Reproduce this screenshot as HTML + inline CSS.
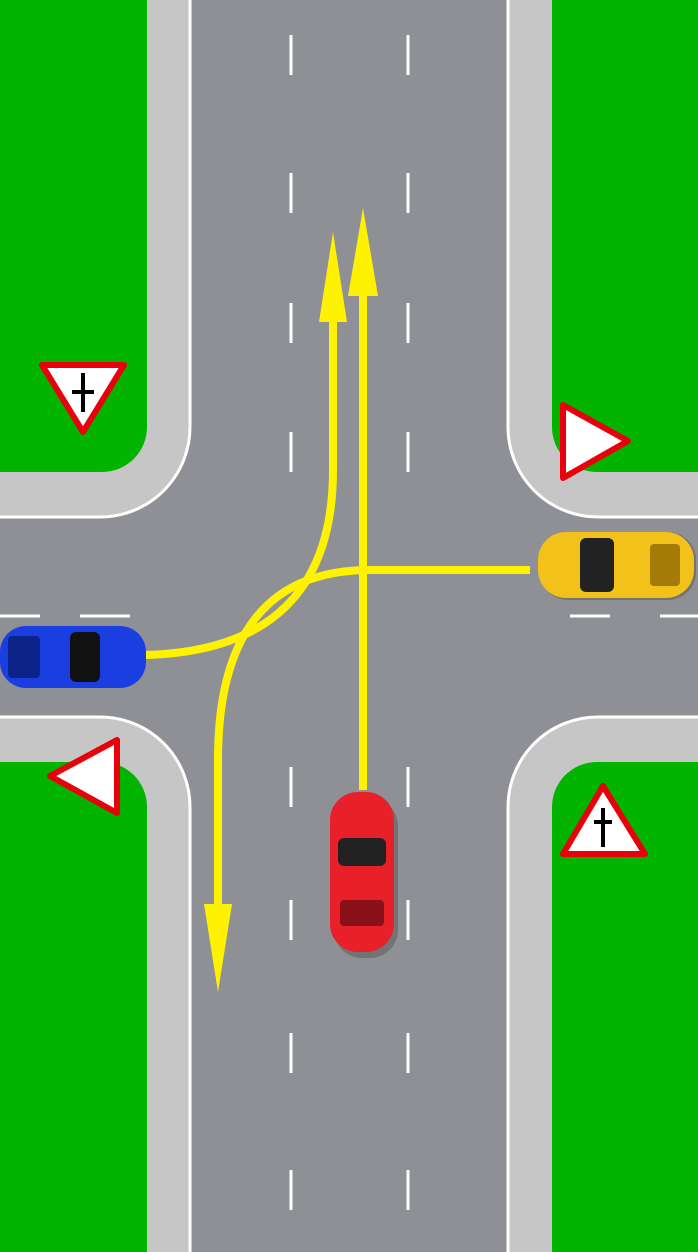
<!DOCTYPE html>
<html><head><meta charset="utf-8"><style>body{margin:0}svg{display:block}</style></head><body>
<svg width="698" height="1252" viewBox="0 0 698 1252" xmlns="http://www.w3.org/2000/svg">
<rect width="698" height="1252" fill="#c6c6c6"/>
<!-- road -->
<path d="M190 -5 H508 V427 A90 90 0 0 0 598 517 H705 V717 H598 A90 90 0 0 0 508 807 V1260 H190 V807 A90 90 0 0 0 100 717 H-5 V517 H100 A90 90 0 0 0 190 427 Z" fill="#8f9096" stroke="#fff" stroke-width="3"/>
<!-- green inner corners -->
<path d="M0 0 H147 V427 A45 45 0 0 1 102 472 H0Z" fill="#00b400"/>
<path d="M698 0 H552 V427 A45 45 0 0 0 597 472 H698Z" fill="#00b400"/>
<path d="M0 1252 H147 V807 A45 45 0 0 0 102 762 H0Z" fill="#00b400"/>
<path d="M698 1252 H552 V807 A45 45 0 0 1 597 762 H698Z" fill="#00b400"/>
<!-- dashes -->
<g stroke="#fff" stroke-width="3">
<path d="M291 35V75M291 173V213M291 303V343M291 432V472M291 767V807M291 900V940M291 1033V1073M291 1170V1210"/>
<path d="M408 35V75M408 173V213M408 303V343M408 432V472M408 767V807M408 900V940M408 1033V1073M408 1170V1210"/>
<path d="M0 616H40M80 616H130M570 616H610M660 616H698"/>
</g>
<!-- paths -->
<g fill="none" stroke="#fff200" stroke-width="8">
<path d="M363 790V290"/>
<path d="M145 655 Q333 650 333 470V315"/>
<path d="M530 570H370 Q218 570 218 760V910"/>
</g>
<g fill="#fff200">
<polygon points="363,208 348,296 378,296"/>
<polygon points="333,232 319,322 347,322"/>
<polygon points="218,992 204,904 232,904"/>
</g>
<!-- cars -->
<g>
<rect x="334" y="798" width="64" height="160" rx="28" fill="#555" opacity=".5"/>
<rect x="330" y="792" width="64" height="160" rx="28" fill="#e8202a"/>
<rect x="338" y="838" width="48" height="28" rx="6" fill="#222"/>
<rect x="340" y="900" width="44" height="26" rx="4" fill="#8a101a"/>
<rect x="0" y="626" width="146" height="62" rx="26" fill="#1a3ee0"/>
<rect x="70" y="632" width="30" height="50" rx="6" fill="#111"/>
<rect x="8" y="636" width="32" height="42" rx="4" fill="#0c248a"/>
<rect x="540" y="532" width="156" height="68" rx="28" fill="#555" opacity=".5"/>
<rect x="538" y="532" width="156" height="66" rx="28" fill="#f2c11a"/>
<rect x="580" y="538" width="34" height="54" rx="6" fill="#222"/>
<rect x="650" y="544" width="30" height="42" rx="4" fill="#a47a08"/>
</g>
<!-- signs -->
<polygon points="42,365 124,365 83,432" fill="#fff" stroke="#e8000a" stroke-width="6" stroke-linejoin="round"/>
<path d="M83 373V412M72 392H94" stroke="#000" stroke-width="4"/>
<polygon points="563,405 563,478 628,441" fill="#fff" stroke="#e8000a" stroke-width="6" stroke-linejoin="round"/>
<polygon points="117,740 117,813 50,776" fill="#fff" stroke="#e8000a" stroke-width="6" stroke-linejoin="round"/>
<polygon points="603,786 563,854 645,854" fill="#fff" stroke="#e8000a" stroke-width="6" stroke-linejoin="round"/>
<path d="M603 808V847M594 822H612" stroke="#000" stroke-width="4"/>
</svg>
</body></html>
